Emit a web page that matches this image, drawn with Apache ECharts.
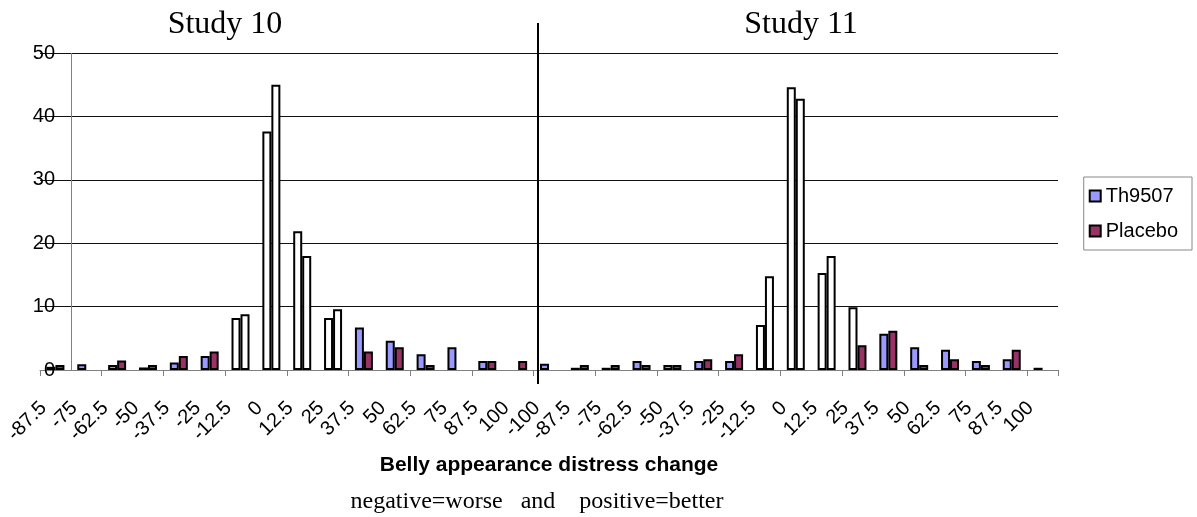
<!DOCTYPE html>
<html>
<head>
<meta charset="utf-8">
<script src="https://cdn.jsdelivr.net/npm/echarts@6/dist/echarts.min.js"></script>
<style>
  html, body { margin: 0; padding: 0; background: #fff; }
  #chart { width: 1197px; height: 517px; }
</style>
</head>
<body>
<div id="chart"></div>
<script>
// Change categories: Study 10 (-87.5 … 100) followed by Study 11 (-100 … 100)
const categories = [
  '-87.5', '-75', '-62.5', '-50', '-37.5', '-25', '-12.5', '0', '12.5', '25',
  '37.5', '50', '62.5', '75', '87.5', '100',
  '-100', '-87.5', '-75', '-62.5', '-50', '-37.5', '-25', '-12.5', '0', '12.5',
  '25', '37.5', '50', '62.5', '75', '87.5', '100'
];

// Percentage of patients per change category
const th9507 = [
  0.5, 0.9, 0.8, 0.4, 1.2, 2.2, 8.2, 37.6, 21.9, 8.2,
  6.7, 4.6, 2.5, 3.6, 1.4, 0,
  1.0, 0.35, 0.35, 1.4, 0.8, 1.4, 1.4, 7.1, 44.6, 15.3,
  9.9, 5.7, 3.6, 3.2, 1.4, 1.7, 0.35
];
const placebo = [
  0.8, 0, 1.5, 0.8, 2.2, 2.9, 8.8, 45.0, 18.0, 9.6,
  2.9, 3.6, 0.8, 0, 1.4, 1.4,
  0, 0.8, 0.8, 0.8, 0.8, 1.7, 2.5, 14.8, 42.8, 18.0,
  3.9, 6.2, 0.8, 1.7, 0.8, 3.2, 0
];

// Categories drawn as open (white) bars around no change
const openTh9507 = [6, 7, 8, 9, 23, 24, 25, 26];
const openPlacebo = [6, 7, 8, 9, 23, 24, 25];

const studyTitles = ['Study 10', 'Study 11'];
const axisTitle = 'Belly appearance distress change';
const axisSubtitle = 'negative=worse\u00a0\u00a0\u00a0and\u00a0\u00a0\u00a0\u00a0positive=better';

const BLUE = '#9999FF';
const PLUM = '#993366';

// Zero counts leave an empty slot; open categories get a white fill
function styled(values, openIdx) {
  return values.map((v, i) => {
    if (v === 0) return null;
    return openIdx.includes(i) ? { value: v, itemStyle: { color: '#ffffff' } } : v;
  });
}

const chart = echarts.init(document.getElementById('chart'), null, { renderer: 'canvas' });

const sans = 'Liberation Sans, Arial, sans-serif';
const serif = 'Liberation Serif, Times New Roman, serif';

chart.setOption({
  animation: false,
  backgroundColor: '#ffffff',
  title: [
    { text: studyTitles[0], left: 220, top: 4, textAlign: 'center',
      textStyle: { fontFamily: serif, fontSize: 32, fontWeight: 'normal', color: '#000' } },
    { text: studyTitles[1], left: 796, top: 4, textAlign: 'center',
      textStyle: { fontFamily: serif, fontSize: 32, fontWeight: 'normal', color: '#000' } },
    { text: axisSubtitle, left: 532, top: 485, textAlign: 'center',
      textStyle: { fontFamily: serif, fontSize: 24, fontWeight: 'normal', color: '#000' } }
  ],
  legend: {
    orient: 'vertical',
    right: 5,
    top: 177,
    data: ['Th9507', 'Placebo'],
    icon: 'rect',
    itemWidth: 11,
    itemHeight: 11,
    itemGap: 15,
    padding: [9, 14, 9, 5],
    borderColor: '#888',
    borderWidth: 1,
    textStyle: { fontFamily: sans, fontSize: 20, color: '#000' }
  },
  grid: [
    { left: 40, right: 139, top: 53, bottom: 147, containLabel: false },
    { left: 40, right: 139, top: 23, bottom: 133, containLabel: false }
  ],
  xAxis: [
    {
      type: 'category',
      gridIndex: 0,
      data: categories,
      axisLine: { lineStyle: { color: '#808080', width: 1 } },
      axisTick: { show: true, interval: 1, length: 6, lineStyle: { color: '#808080' } },
      axisLabel: {
        interval: 0, rotate: 45, margin: 23,
        padding: [0, 17, 0, 0],
        fontFamily: sans, fontSize: 20, color: '#000'
      },
      name: axisTitle,
      nameLocation: 'middle',
      nameGap: 85,
      nameTextStyle: { fontFamily: sans, fontSize: 21, fontWeight: 'bold', color: '#000' }
    },
    // hidden helper axes in category units, used for reference lines
    { type: 'value', gridIndex: 0, min: 0, max: categories.length, show: false },
    { type: 'value', gridIndex: 1, min: 0, max: categories.length, show: false }
  ],
  yAxis: [
    {
      type: 'value',
      gridIndex: 0,
      min: 0, max: 50, interval: 10,
      axisLine: { show: false },
      axisTick: { show: false },
      splitLine: { lineStyle: { color: '#111', width: 1 } },
      axisLabel: { margin: -15, fontFamily: sans, fontSize: 20, color: '#000' }
    },
    { type: 'value', gridIndex: 1, min: 0, max: 1, show: false }
  ],
  series: [
    {
      name: 'Th9507',
      type: 'bar',
      xAxisIndex: 0, yAxisIndex: 0,
      data: styled(th9507, openTh9507),
      barWidth: 9,
      barGap: '0%',
      itemStyle: { color: BLUE, borderColor: '#000', borderWidth: 2 }
    },
    {
      name: 'Placebo',
      type: 'bar',
      xAxisIndex: 0, yAxisIndex: 0,
      data: styled(placebo, openPlacebo),
      barWidth: 9,
      barGap: '0%',
      itemStyle: { color: PLUM, borderColor: '#000', borderWidth: 2 }
    },
    {
      // vertical value axis line, crossing at the second category
      type: 'line',
      xAxisIndex: 1, yAxisIndex: 0,
      data: [],
      silent: true,
      markLine: {
        silent: true, symbol: 'none', label: { show: false },
        lineStyle: { color: '#808080', type: 'solid', width: 1 },
        data: [{ xAxis: 1 }]
      }
    },
    {
      // divider between the two studies
      type: 'line',
      xAxisIndex: 2, yAxisIndex: 1,
      data: [],
      silent: true,
      markLine: {
        silent: true, symbol: 'none', label: { show: false },
        lineStyle: { color: '#000', type: 'solid', width: 2 },
        data: [{ xAxis: 16.15 }]
      }
    }
  ]
});
</script>
</body>
</html>
